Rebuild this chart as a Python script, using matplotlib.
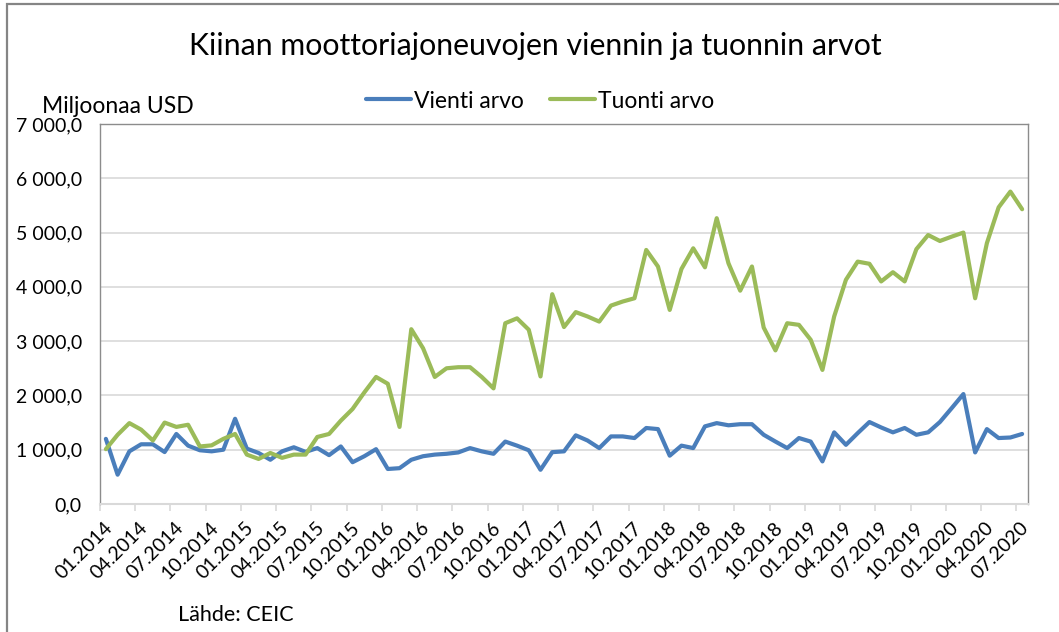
import matplotlib
matplotlib.use("Agg")
import matplotlib.pyplot as plt
from matplotlib.patches import Rectangle
from matplotlib.transforms import ScaledTranslation
import numpy as np

plt.rcParams['font.family'] = ['Lato', 'DejaVu Sans']

title = "Kiinan moottoriajoneuvojen viennin ja tuonnin arvot"
unit_label = "Miljoonaa USD"
source = "Lähde: CEIC"
series_names = ["Vienti arvo", "Tuonti arvo"]

tick_labels = ["01.2014", "04.2014", "07.2014", "10.2014", "01.2015", "04.2015", "07.2015",
               "10.2015", "01.2016", "04.2016", "07.2016", "10.2016", "01.2017", "04.2017",
               "07.2017", "10.2017", "01.2018", "04.2018", "07.2018", "10.2018", "01.2019",
               "04.2019", "07.2019", "10.2019", "01.2020", "04.2020", "07.2020"]

vienti = [1200, 540, 970, 1100, 1100, 957, 1290, 1075, 990, 970, 1000, 1570,
          1020, 940, 815, 970, 1045, 960, 1030, 900, 1060, 770, 880, 1010,
          645, 660, 815, 880, 910, 925, 950, 1030, 970, 925, 1150, 1075,
          990, 630, 955, 970, 1265, 1170, 1030, 1245, 1245, 1215, 1400, 1380,
          890, 1075, 1030, 1430, 1490, 1450, 1470, 1470, 1275, 1150, 1030, 1215,
          1150, 785, 1320, 1090, 1305, 1510, 1410, 1320, 1400, 1275, 1320, 1510,
          1765, 2025, 950, 1380, 1215, 1225, 1290]

tuonti = [1010, 1275, 1490, 1370, 1170, 1500, 1420, 1460, 1060, 1080, 1200, 1290,
          910, 830, 940, 850, 910, 910, 1235, 1290, 1535, 1750, 2055, 2340,
          2215, 1420, 3220, 2870, 2340, 2500, 2520, 2520, 2340, 2130, 3330, 3420,
          3210, 2350, 3865, 3260, 3535, 3455, 3360, 3655, 3730, 3790, 4680, 4375,
          3575, 4330, 4710, 4360, 5265, 4435, 3930, 4375, 3250, 2830, 3330, 3300,
          3025, 2470, 3455, 4130, 4465, 4425, 4100, 4270, 4100, 4695, 4955, 4845,
          4925, 5000, 3790, 4805, 5465, 5755, 5430]

W, H = 1059, 632
fig = plt.figure(figsize=(W / 100, H / 100), dpi=100)

def fx(px):
    return px / W

def fy(py):
    return 1 - py / H

# outer chart border (cropped screenshot)
fig.add_artist(Rectangle((fx(7), fy(700)), fx(1200), 696 / H, transform=fig.transFigure,
                         fill=False, edgecolor='#858585', linewidth=1.6))

ax = fig.add_axes([fx(100), fy(504), fx(1028) - fx(100), (504 - 124) / H])

x = np.arange(len(vienti))
blue = '#4A7EBB'
green = '#9BBB59'
ax.plot(x, vienti, color=blue, lw=3.0, solid_joinstyle='round', solid_capstyle='round',
        label=series_names[0], zorder=3)
ax.plot(x, tuonti, color=green, lw=3.0, solid_joinstyle='round', solid_capstyle='round',
        label=series_names[1], zorder=3)

ax.set_xlim(-0.5, len(vienti) - 0.5)
ax.set_ylim(0, 7000)
yt = np.arange(0, 7001, 1000)
ax.set_yticks(yt)
ax.set_yticklabels([f"{v:,.1f}".replace(",", " ").replace(".", ",") for v in yt])
ax.yaxis.grid(True, color='#D9D9D9', lw=1.2)
ax.set_axisbelow(True)
ax.tick_params(axis='y', length=0, pad=13, labelsize=14, labelcolor='#000000')

label_pos = np.arange(0, len(vienti), 3)
ax.set_xticks(label_pos)
ax.set_xticklabels(tick_labels, rotation=45, ha='right', va='center', rotation_mode='anchor')
ax.tick_params(axis='x', which='major', length=0, pad=15, labelsize=14)
shift = ScaledTranslation(4 / 100, 0, fig.dpi_scale_trans)
for lab in ax.get_xticklabels():
    lab.set_transform(lab.get_transform() + shift)
ax.set_xticks(np.arange(-0.5, len(vienti), 3), minor=True)
ax.tick_params(axis='x', which='minor', length=5, color='#D9D9D9', width=1.2)

for s in ['top', 'left', 'right']:
    ax.spines[s].set_color('#8C8C8C')
    ax.spines[s].set_linewidth(1.0)
ax.spines['bottom'].set_color('#D9D9D9')
ax.spines['bottom'].set_linewidth(1.5)

fig.text(fx(535), fy(55), title, ha='center', va='baseline', fontsize=21.8, color='#000000')
fig.text(fx(42), fy(113), unit_label, ha='left', va='baseline', fontsize=16.5, color='#000000')
fig.text(fx(178), fy(621), source, ha='left', va='baseline', fontsize=15.5, color='#000000')

leg = ax.legend(loc='center left', bbox_to_anchor=(fx(366), fy(101)),
                bbox_transform=fig.transFigure, ncol=2, frameon=False,
                fontsize=16.5, handlelength=1.95, handletextpad=0.13, columnspacing=1.15,
                borderpad=0, borderaxespad=0)

fig.savefig("out.png", dpi=100)
